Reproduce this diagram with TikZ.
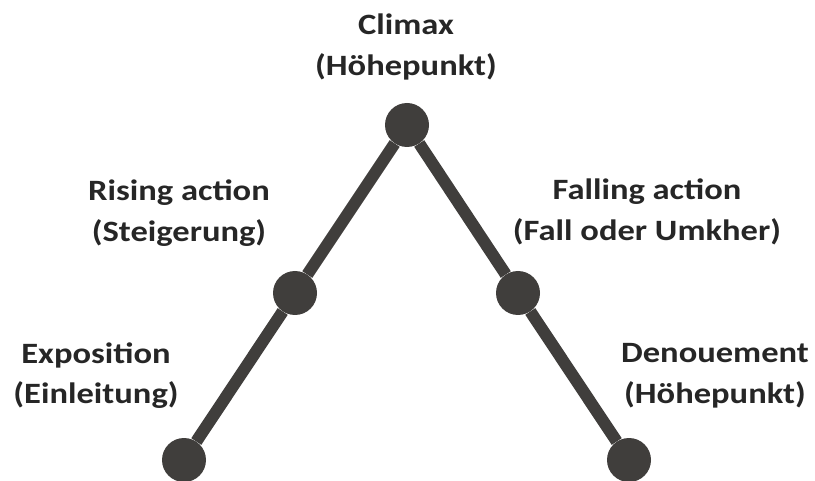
\documentclass[tikz,border=0pt]{standalone}
\usepackage{fontspec}
\setmainfont{Carlito}[FakeStretch=1.17]
\definecolor{dotgray}{HTML}{403E3C}
\definecolor{txtgray}{HTML}{262626}
\begin{document}
\begin{tikzpicture}[x=1pt,y=-1pt,line join=round,
	dot/.style={circle,fill=dotgray,minimum size=44pt,inner sep=0pt},
	lbl/.style={align=center,anchor=base,text=txtgray,inner sep=0pt,
		font=\bfseries\fontsize{29.5}{41}\selectfont}]
	\useasboundingbox (0,0) rectangle (815,481);
	% points of the arc
	\node[dot] (expo) at (184,460) {};
	\node[dot] (rise) at (295,293) {};
	\node[dot] (climax) at (407,125) {};
	\node[dot] (fall) at (518,293) {};
	\node[dot] (deno) at (629,460) {};
	\draw[dotgray,line width=12pt] (expo) -- (rise) -- (climax) -- (fall) -- (deno);
	% labels (anchored on the second line)
	\node[lbl] (climaxlbl) at (406,76) {Climax\\(Höhepunkt)};
	\node[lbl] (riselbl) at (179,242) {Rising action\\(Steigerung)};
	\node[lbl] (falllbl) at (647,241) {Falling action\\(Fall oder Umkher)};
	\node[lbl] (expolbl) at (96,404) {Exposition\\(Einleitung)};
	\node[lbl] (denolbl) at (715,403) {Denouement\\(Höhepunkt)};
\end{tikzpicture}
\end{document}
